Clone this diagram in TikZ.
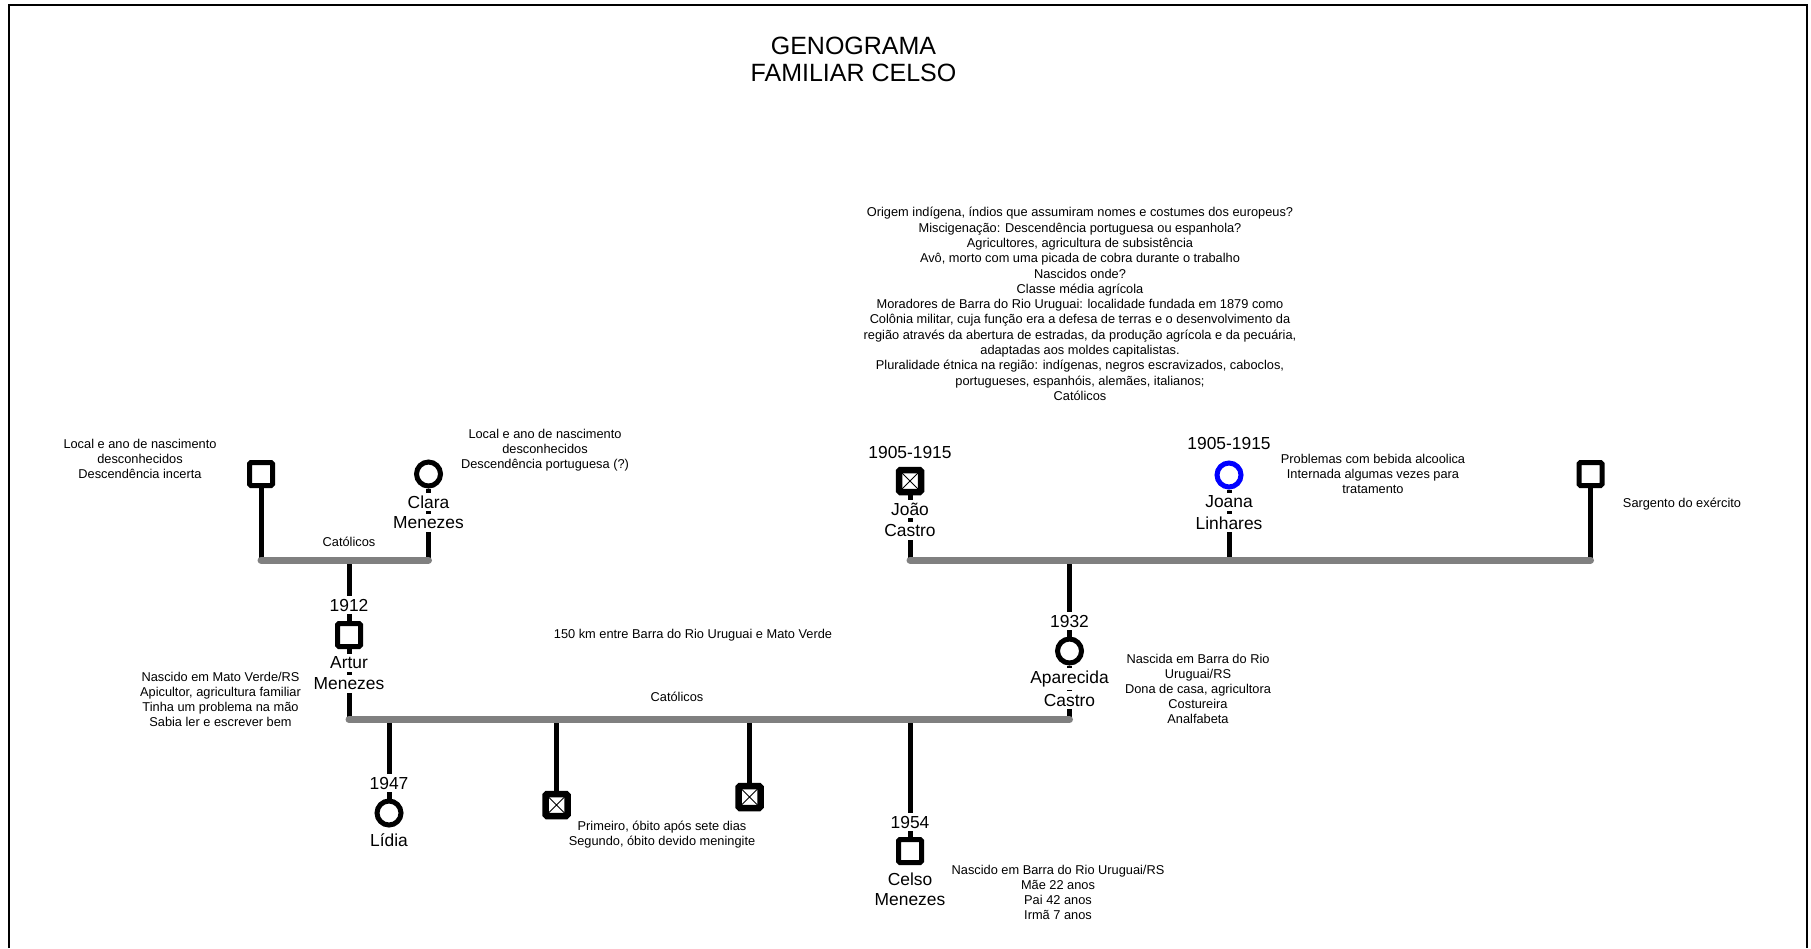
\documentclass[tikz,border=0pt]{standalone}
\usepackage{fontspec}
\setmainfont{Liberation Sans}
\begin{document}
\begin{tikzpicture}[x=1pt,y=-1pt,
  sq/.style={draw,line width=5pt,minimum size=23pt,inner sep=0pt,rounded corners=1.5pt,fill=white},
  dsq/.style={sq,line width=6.5pt,minimum size=22pt,path picture={\draw[line width=0.8pt]
      (path picture bounding box.north west) -- (path picture bounding box.south east)
      (path picture bounding box.south west) -- (path picture bounding box.north east);}},
  fc/.style={circle,draw,line width=5pt,minimum size=24pt,inner sep=0pt,fill=white},
  conn/.style={line width=5pt},
  marr/.style={line width=7pt,draw=gray,line cap=round},
  note/.style={align=center,font=\fontsize{12.8}{15}\selectfont,inner sep=0pt},
  lbl/.style={font=\fontsize{17.4}{20}\selectfont,fill=white,inner xsep=0.6pt,inner ysep=3pt},
  ttl/.style={align=center,font=\fontsize{25}{27}\selectfont}
]
\useasboundingbox (0,0) rectangle (1811,948);
\draw[line width=2.5pt] (9,948) -- (9,5) -- (1807,5) -- (1807,948);

\node[ttl] (title) at (853.5,59.5) {GENOGRAMA\\FAMILIAR CELSO};

% symbols
\node[sq] (gfL) at (261,474) {};
\node[fc] (clara) at (428.5,474) {};
\node[dsq] (joao) at (910,481) {};
\node[fc,draw=blue] (joana) at (1229,475) {};
\node[sq] (sarg) at (1590.5,474) {};
\node[sq] (artur) at (349,635) {};
\node[fc] (apar) at (1069.5,651) {};
\node[fc] (lidia) at (389,813) {};
\node[dsq] (d1) at (556.5,805) {};
\node[dsq] (d2) at (749.5,797) {};
\node[sq] (celso) at (910,851) {};

% coordinates on marriage lines
\coordinate (m1a) at (261,560);
\coordinate (m1b) at (428.5,560);
\coordinate (m1c) at (349,560);
\coordinate (m2a) at (910,560);
\coordinate (m2b) at (1229,560);
\coordinate (m2c) at (1069.5,560);
\coordinate (m2d) at (1590.5,560);
\coordinate (m3a) at (349,719.5);
\coordinate (m3b) at (1069.5,719.5);
\coordinate (k1) at (389,719.5);
\coordinate (k2) at (556.5,719.5);
\coordinate (k3) at (749.5,719.5);
\coordinate (k4) at (910,719.5);

% vertical connectors
\draw[conn] (gfL) -- (m1a);
\draw[conn] (clara) -- (m1b);
\draw[conn] (m1c) -- (artur);
\draw[conn] (joao) -- (m2a);
\draw[conn] (joana) -- (m2b);
\draw[conn] (sarg) -- (m2d);
\draw[conn] (m2c) -- (apar);
\draw[conn] (artur) -- (m3a);
\draw[conn] (apar) -- (m3b);
\draw[conn] (k1) -- (lidia);
\draw[conn] (k2) -- (d1);
\draw[conn] (k3) -- (d2);
\draw[conn] (k4) -- (celso);

% marriage lines
\draw[marr] (m1a) -- (m1b);
\draw[marr] (m2a) -- (m2d);
\draw[marr] (m3a) -- (m3b);

% names and years
\node[lbl] (claraN1) at (428.5,502) {Clara};
\node[lbl] (claraN2) at (428.5,523) {Menezes};
\node[lbl] (arturY) at (349,605) {1912};
\node[lbl] (arturN1) at (349,663) {Artur};
\node[lbl] (arturN2) at (349,684) {Menezes};
\node[lbl] (joaoY) at (910,453) {1905-1915};
\node[lbl] (joaoN1) at (910,509) {João};
\node[lbl] (joaoN2) at (910,531) {Castro};
\node[lbl] (joanaY) at (1229,443.5) {1905-1915};
\node[lbl] (joanaN1) at (1229,502) {Joana};
\node[lbl] (joanaN2) at (1229,523) {Linhares};
\node[lbl] (aparY) at (1069.5,621) {1932};
\node[lbl] (aparN1) at (1069.5,679) {Aparecida};
\node[lbl] (aparN2) at (1069.5,700) {Castro};
\node[lbl] (lidiaY) at (389,783) {1947};
\node[lbl] (lidiaN) at (389,840) {Lídia};
\node[lbl] (celsoY) at (910,822) {1954};
\node[lbl] (celsoN1) at (910,879) {Celso};
\node[lbl] (celsoN2) at (910,900) {Menezes};

% notes
\node[note] (nGfL) at (140,458.5) {Local e ano de nascimento\\desconhecidos\\Descendência incerta};
\node[note] (nClara) at (545,450) {Local e ano de nascimento\\desconhecidos\\Descendência portuguesa (?)};
\node[note] (nCat1) at (349,541.5) {Católicos};
\node[note,font=\fontsize{12.8}{15.3}\selectfont] (nCastro) at (1080,304) {Origem indígena, índios que assumiram nomes e costumes dos europeus?\\
Miscigenação: Descendência portuguesa ou espanhola?\\
Agricultores, agricultura de subsistência\\
Avô, morto com uma picada de cobra durante o trabalho\\
Nascidos onde?\\
Classe média agrícola\\
Moradores de Barra do Rio Uruguai: localidade fundada em 1879 como\\
Colônia militar, cuja função era a defesa de terras e o desenvolvimento da\\
região através da abertura de estradas, da produção agrícola e da pecuária,\\
adaptadas aos moldes capitalistas.\\
Pluralidade étnica na região: indígenas, negros escravizados, caboclos,\\
portugueses, espanhóis, alemães, italianos;\\
Católicos};
\node[note] (nJoana) at (1373,473.5) {Problemas com bebida alcoolica\\Internada algumas vezes para\\tratamento};
\node[note] (nSarg) at (1682,504.5) {Sargento do exército};
\node[note] (nArtur) at (220.5,699) {Nascido em Mato Verde/RS\\Apicultor, agricultura familiar\\Tinha um problema na mão\\Sabia ler e escrever bem};
\node[note] (nDist) at (693,635) {150 km entre Barra do Rio Uruguai e Mato Verde};
\node[note] (nCat2) at (677,696.5) {Católicos};
\node[note] (nApar) at (1198,689) {Nascida em Barra do Rio\\Uruguai/RS\\Dona de casa, agricultora\\Costureira\\Analfabeta};
\node[note] (nDead) at (662,835) {Primeiro, óbito após sete dias\\Segundo, óbito devido meningite};
\node[note] (nCelso) at (1058,892) {Nascido em Barra do Rio Uruguai/RS\\Mãe 22 anos\\Pai 42 anos\\Irmã 7 anos};
\end{tikzpicture}
\end{document}
